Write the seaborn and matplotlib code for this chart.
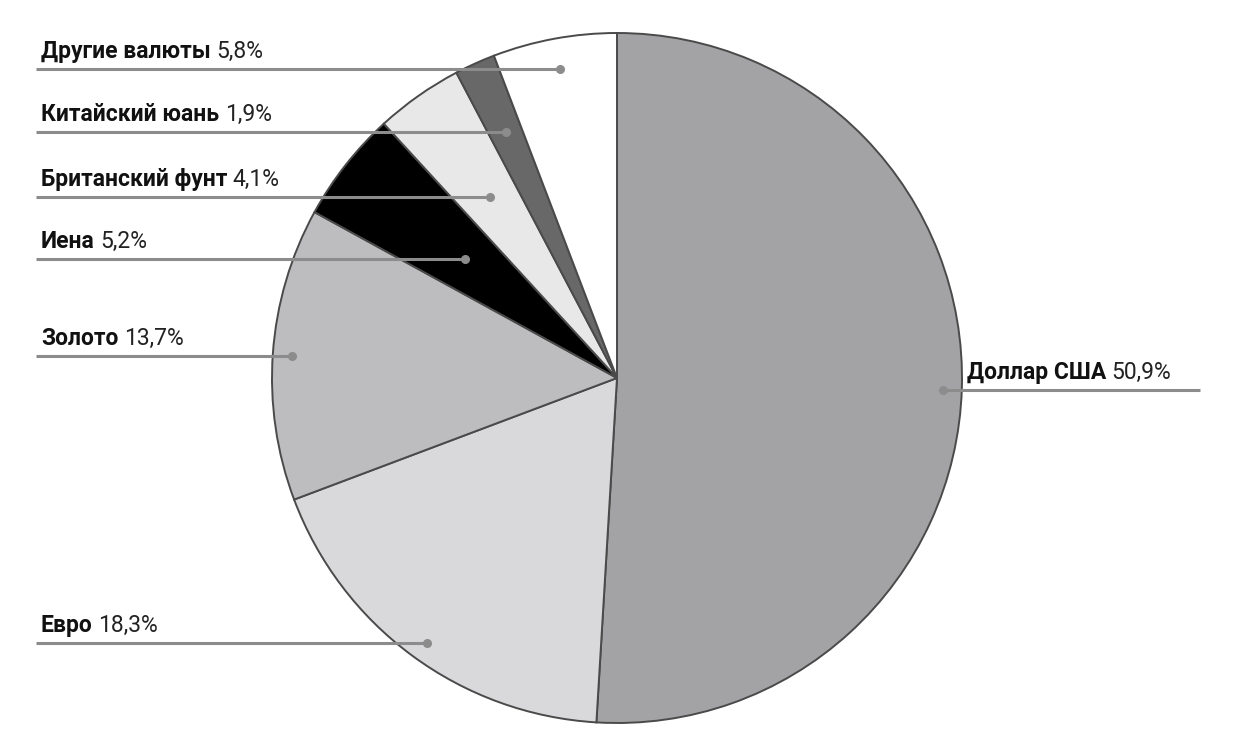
import numpy as np
import matplotlib
matplotlib.use("Agg")
import matplotlib.pyplot as plt
import seaborn as sns

# Currency shares of world reserves (clockwise from 12 o'clock)
names = ["Доллар США", "Евро", "Золото", "Иена", "Британский фунт",
         "Китайский юань", "Другие валюты"]
shares = [50.9, 18.3, 13.7, 5.2, 4.1, 1.9, 5.8]
value_labels = ["50,9%", "18,3%", "13,7%", "5,2%", "4,1%", "1,9%", "5,8%"]
colors = ["#a3a3a5", "#d9d9db", "#bdbdbf", "#000000", "#e8e8e8", "#686868", "#ffffff"]

# layout of leader lines (pixel rows from the top of the picture)
line_rows = [390, 643, 356, 259, 197, 132, 69]

sns.set_theme(style="white")
plt.rcParams["font.family"] = ["Roboto", "DejaVu Sans"]

W, H = 1240, 750
fig = plt.figure(figsize=(W / 100, H / 100), dpi=100)
ax = fig.add_axes([0, 0, 1, 1])

cx, cy, r = 617, H - 378, 345
wedges, _ = ax.pie(shares, colors=colors, startangle=90, counterclock=False,
                   center=(cx, cy), radius=r,
                   wedgeprops=dict(edgecolor="#4a4a4a", linewidth=1.4))

ax.set_xlim(0, W)
ax.set_ylim(0, H)
ax.set_aspect("equal")
ax.axis("off")

line_col = "#8c8c8c"
for w, share, name, val, row in zip(wedges, shares, names, value_labels, line_rows):
    ly = H - row
    mid = np.deg2rad((w.theta1 + w.theta2) / 2)
    dy = ly - cy
    side = np.sign(np.cos(mid))
    if share >= 10:
        # big slices: dot sits just inside the rim
        dot_x = cx + side * np.sqrt((0.945 * r) ** 2 - dy ** 2)
    else:
        # small slices: dot where the line crosses the middle of the slice
        dot_x = cx + dy / np.tan(mid)
    if side > 0:
        ax.plot([dot_x, 1200], [ly, ly], color=line_col, lw=2.2,
                solid_capstyle="butt", zorder=3)
        tx = dot_x + 24
    else:
        ax.plot([36, dot_x], [ly, ly], color=line_col, lw=2.2,
                solid_capstyle="butt", zorder=3)
        tx = 41
    ax.plot(dot_x, ly, "o", color=line_col, ms=5.5, zorder=4)
    t = ax.text(tx, ly + 11, name, fontsize=16.5, fontweight="bold",
                color="#111111", ha="left", va="baseline", zorder=5)
    ax.annotate(val, xy=(1, 0), xycoords=t, xytext=(4, 0),
                textcoords="offset points", fontsize=16.5, color="#222222",
                ha="left", va="bottom", zorder=5)

fig.savefig("out.png", dpi=100, facecolor="white")
